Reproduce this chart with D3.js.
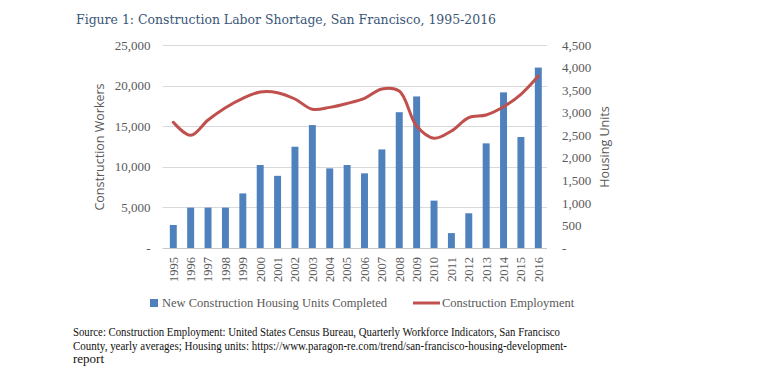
<!DOCTYPE html>
<html>
<head>
<meta charset="utf-8">
<script src="https://cdn.jsdelivr.net/npm/d3@7"></script>
<style>
  body { margin: 0; background: #fff; }
  svg { display: block; }
</style>
</head>
<body>
<div id="chart-area"></div>
<script>
var years = ["1995","1996","1997","1998","1999","2000","2001","2002","2003","2004","2005",
    "2006","2007","2008","2009","2010","2011","2012","2013","2014","2015","2016"];

// housing units completed (right axis)
var housingUnits = [510, 895, 895, 895, 1210, 1840, 1600, 2245, 2725, 1765, 1840,
    1655, 2185, 3010, 3360, 1050, 330, 770, 2320, 3450, 2460, 4000];

// construction employment (left axis)
var employment = [15480, 13880, 15760, 17280, 18430, 19210, 19130, 18350, 17080, 17320, 17800,
    18430, 19580, 19330, 15020, 13510, 14410, 16050, 16380, 17400, 18930, 21180];

var leftTicks = [0, 5000, 10000, 15000, 20000, 25000];
var rightTicks = [0, 500, 1000, 1500, 2000, 2500, 3000, 3500, 4000, 4500];

var W = 780, H = 386;
var margin = {left: 164.6, right: 233, top: 45, bottom: 138};
var width = W - margin.left - margin.right;
var height = H - margin.top - margin.bottom;

var svg = d3.select("#chart-area").append("svg")
    .attr("width", W)
    .attr("height", H);

var serif = "'Liberation Serif', 'DejaVu Serif', serif";
var sans = "'Open Sans', 'Liberation Sans', sans-serif";

svg.append("text")
    .attr("x", 76)
    .attr("y", 24)
    .attr("fill", "#3a5677")
    .style("font-family", "'DejaVu Serif', serif")
    .style("font-size", "13.4px")
    .attr("textLength", 420)
    .attr("lengthAdjust", "spacingAndGlyphs")
    .text("Figure 1: Construction Labor Shortage, San Francisco, 1995-2016");

var g = svg.append("g")
    .attr("transform", "translate(" + margin.left + "," + margin.top + ")");

var x = d3.scaleBand()
    .domain(years)
    .range([0, width])
    .paddingInner(0.6)
    .paddingOuter(0.3);

var yLeft = d3.scaleLinear().domain([0, 25000]).range([height, 0]);
var yRight = d3.scaleLinear().domain([0, 4500]).range([height, 0]);

var fmt = function(d) { return d === 0 ? "-" : d3.format(",")(d); };

// gridlines
g.append("g")
    .selectAll("line")
    .data(leftTicks)
    .enter().append("line")
    .attr("x1", -2)
    .attr("x2", width)
    .attr("y1", function(d) { return Math.round(yLeft(d)) + 0.5; })
    .attr("y2", function(d) { return Math.round(yLeft(d)) + 0.5; })
    .attr("stroke", function(d) { return d === 0 ? "#c8c8c8" : "#d9d9d9"; })
    .attr("stroke-width", 1);

// left axis
var leftAxis = g.append("g")
    .call(d3.axisLeft(yLeft).tickValues(leftTicks).tickFormat(fmt).tickSize(0).tickPadding(14));
leftAxis.select(".domain").remove();
leftAxis.selectAll("text")
    .attr("fill", "#595959")
    .style("font-family", serif)
    .style("font-size", "13px");

// right axis
var rightAxis = g.append("g")
    .attr("transform", "translate(" + width + ",0)")
    .call(d3.axisRight(yRight).tickValues(rightTicks).tickFormat(fmt).tickSize(0).tickPadding(15));
rightAxis.select(".domain").remove();
rightAxis.selectAll("text")
    .attr("fill", "#595959")
    .style("font-family", serif)
    .style("font-size", "13px");

// x axis
var xAxis = g.append("g")
    .attr("transform", "translate(0," + height + ")")
    .call(d3.axisBottom(x).tickSize(0));
xAxis.select(".domain").remove();
xAxis.selectAll("text")
    .attr("transform", "rotate(-90)")
    .attr("text-anchor", "end")
    .attr("x", -9)
    .attr("y", 0)
    .attr("dy", "0.35em")
    .attr("fill", "#595959")
    .style("font-family", serif)
    .style("font-size", "12.5px");

// bars
g.selectAll("rect.bar")
    .data(housingUnits)
    .enter().append("rect")
    .attr("class", "bar")
    .attr("x", function(d, i) { return x(years[i]); })
    .attr("width", x.bandwidth())
    .attr("y", function(d) { return yRight(d); })
    .attr("height", function(d) { return height - yRight(d); })
    .attr("fill", "#4f81bd");

// employment line
var line = d3.line()
    .x(function(d, i) { return x(years[i]) + x.bandwidth() / 2; })
    .y(function(d) { return yLeft(d); })
    .curve(d3.curveCatmullRom.alpha(0.5));

g.append("path")
    .datum(employment)
    .attr("fill", "none")
    .attr("stroke", "#c0504d")
    .attr("stroke-width", 3)
    .attr("stroke-linejoin", "round")
    .attr("stroke-linecap", "round")
    .attr("d", line);

// axis titles
svg.append("text")
    .attr("transform", "translate(104,147) rotate(-90)")
    .attr("text-anchor", "middle")
    .attr("fill", "#595959")
    .style("font-family", sans)
    .style("font-size", "12.5px")
    .text("Construction Workers");

svg.append("text")
    .attr("transform", "translate(609,147) rotate(-90)")
    .attr("text-anchor", "middle")
    .attr("fill", "#595959")
    .style("font-family", sans)
    .style("font-size", "12.5px")
    .text("Housing Units");

// legend
var legend = svg.append("g").attr("transform", "translate(0,303)");
legend.append("rect")
    .attr("x", 150).attr("y", -4)
    .attr("width", 8).attr("height", 8)
    .attr("fill", "#4f81bd");
legend.append("text")
    .attr("x", 162).attr("y", 0).attr("dy", "0.35em")
    .attr("fill", "#595959")
    .style("font-family", serif)
    .style("font-size", "12.5px")
    .text("New Construction Housing Units Completed");
legend.append("line")
    .attr("x1", 413).attr("x2", 440)
    .attr("y1", 0).attr("y2", 0)
    .attr("stroke", "#c0504d")
    .attr("stroke-width", 3);
legend.append("text")
    .attr("x", 442).attr("y", 0).attr("dy", "0.35em")
    .attr("fill", "#595959")
    .style("font-family", serif)
    .style("font-size", "12.5px")
    .text("Construction Employment");

// source note
var sourceLines = [
    "Source: Construction Employment: United States Census Bureau, Quarterly Workforce Indicators, San Francisco",
    "County, yearly averages; Housing units: https://www.paragon-re.com/trend/san-francisco-housing-development-",
    "report"
];
var sourceWidths = [487, 494, null];
svg.append("g").selectAll("text")
    .data(sourceLines)
    .enter().append("text")
    .attr("x", 73)
    .attr("y", function(d, i) { return 336 + i * 13.5; })
    .attr("fill", "#111")
    .attr("textLength", function(d, i) { return sourceWidths[i]; })
    .attr("lengthAdjust", "spacingAndGlyphs")
    .style("font-family", serif)
    .style("font-size", "13px")
    .text(function(d) { return d; });
</script>
</body>
</html>
